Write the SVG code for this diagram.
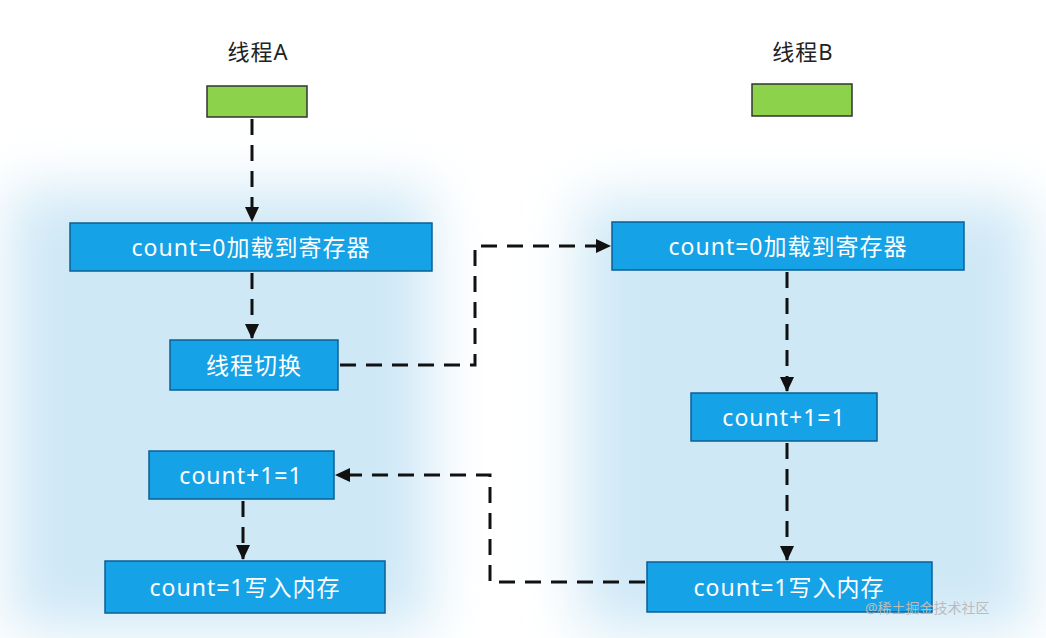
<svg xmlns="http://www.w3.org/2000/svg" width="1046" height="638" viewBox="0 0 1046 638">
<defs>
<filter id="blur" x="-20%" y="-20%" width="140%" height="140%"><feGaussianBlur stdDeviation="28"/></filter>
<marker id="arr" markerWidth="16" markerHeight="16" refX="14" refY="8" orient="auto" markerUnits="userSpaceOnUse"><path d="M0,1 L15,8 L0,15 z" fill="#111"/></marker>
</defs>
<style>
.box{fill:#15a2e6;stroke:#0b5f95;stroke-width:1.5}
.g{fill:#8cd24a;stroke:#333;stroke-width:1.5}
.t{font-family:"Noto Sans","Noto Sans CJK SC",sans-serif;font-size:23px;letter-spacing:1px;fill:#fff;text-anchor:middle;dominant-baseline:central}
.h{font-family:"Noto Sans","Noto Sans CJK SC",sans-serif;font-size:22px;letter-spacing:1px;fill:#222;text-anchor:middle}
.c{fill:none;stroke:#111;stroke-width:3;stroke-dasharray:16 10;marker-end:url(#arr)}
.w{font-family:"Noto Sans","Noto Sans CJK SC",sans-serif;font-size:14px;fill:#bbb}
</style>
<rect width="1046" height="638" fill="#fff"/>
<g filter="url(#blur)" fill="#cfe8f6">
<rect x="10" y="190" width="420" height="440"/>
<rect x="580" y="200" width="450" height="430"/>
</g>
<g id="titleA"><text class="h" x="258" y="60">线程A</text><rect class="g" x="207" y="86" width="100" height="31"/></g>
<g id="titleB"><text class="h" x="803" y="60">线程B</text><rect class="g" x="752" y="84" width="100" height="32"/></g>
<g id="a1"><rect class="box" x="70" y="223" width="362" height="48"/><text class="t" x="251" y="247">count=0加载到寄存器</text></g>
<g id="a2"><rect class="box" x="170" y="340" width="168" height="50"/><text class="t" x="254" y="365">线程切换</text></g>
<g id="a3"><rect class="box" x="149" y="451" width="185" height="48"/><text class="t" x="241" y="475">count+1=1</text></g>
<g id="a4"><rect class="box" x="105" y="561" width="280" height="52"/><text class="t" x="245" y="587">count=1写入内存</text></g>
<g id="b1"><rect class="box" x="612" y="222" width="352" height="48"/><text class="t" x="788" y="246">count=0加载到寄存器</text></g>
<g id="b2"><rect class="box" x="691" y="393" width="186" height="48"/><text class="t" x="784" y="417">count+1=1</text></g>
<g id="b3"><rect class="box" x="647" y="562" width="285" height="50"/><text class="t" x="789" y="587">count=1写入内存</text></g>
<g id="connectors">
<path class="c" d="M252,119 V221"/>
<path class="c" d="M252,273 V338"/>
<path class="c" d="M340,365 H475 V246 H610"/>
<path class="c" d="M787,272 V391"/>
<path class="c" d="M787,443 V560"/>
<path class="c" d="M645,582 H490 V475 H336"/>
<path class="c" d="M243,501 V559"/>
</g>
<text class="w" x="865" y="613">@稀土掘金技术社区</text>
</svg>
